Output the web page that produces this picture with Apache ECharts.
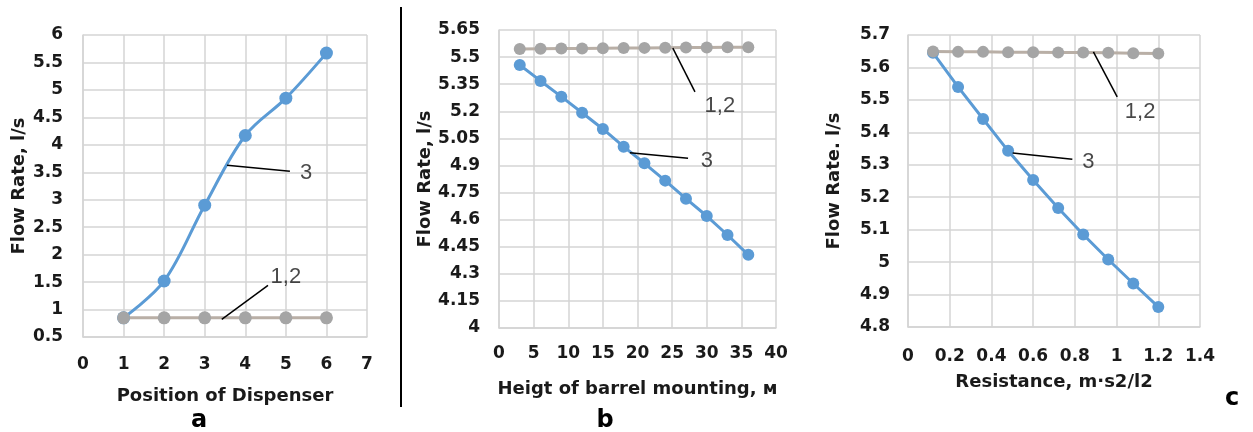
<!DOCTYPE html>
<html><head><meta charset="utf-8">
<script src="https://cdn.jsdelivr.net/npm/echarts@6/dist/echarts.min.js"></script>
<style>html,body{margin:0;padding:0;background:#fff}#c{width:1253px;height:432px}</style>
</head><body><div id="c"></div>
<script>
// ---- data ----
const aX = [1, 2, 3, 4, 5, 6];
const aFlow3 = [0.85, 1.52, 2.9, 4.17, 4.85, 5.67];
const aFlow12 = [0.85, 0.85, 0.85, 0.85, 0.85, 0.85];

const bX = [3, 6, 9, 12, 15, 18, 21, 24, 27, 30, 33, 36];
const bFlow3 = [5.456, 5.368, 5.281, 5.192, 5.102, 5.004, 4.912, 4.816, 4.716, 4.62, 4.515, 4.405];
const bFlow12 = [5.545, 5.546, 5.547, 5.548, 5.549, 5.55, 5.551, 5.552, 5.553, 5.553, 5.554, 5.555];

const cX = [0.12, 0.24, 0.36, 0.48, 0.6, 0.72, 0.84, 0.96, 1.08, 1.2];
const cFlow3 = [5.645, 5.54, 5.441, 5.343, 5.253, 5.167, 5.085, 5.008, 4.934, 4.862];
const cFlow12 = [5.649, 5.648, 5.648, 5.647, 5.647, 5.646, 5.646, 5.645, 5.644, 5.643];

const xNames = ['Position of Dispenser', 'Heigt of barrel mounting, м', 'Resistance, m·s2/l2'];
const yNames = ['Flow Rate, l/s', 'Flow Rate, l/s', 'Flow Rate. l/s'];
const panelLetters = ['a', 'b', 'c'];

// annotation leaders and labels in data coordinates
const aLead3 = [[3.55, 3.63], [5.1, 3.52]], aText3 = [5.5, 3.48];
const aLead12 = [[4.56, 1.44], [3.42, 0.82]], aText12 = [5.0, 1.6];
const bLead12 = [[25.1, 5.55], [28.3, 5.307]], bText12 = [31.9, 5.23];
const bLead3 = [[18.9, 4.97], [27.3, 4.94]], bText3 = [30.0, 4.925];
const cLead12 = [[0.889, 5.648], [1.003, 5.509]], cText12 = [1.113, 5.462];
const cLead3 = [[0.502, 5.336], [0.788, 5.317]], cText3 = [0.865, 5.308];

// ---- styles ----
const FONT = "'DejaVu Sans', Verdana, sans-serif";
const AFONT = "'Liberation Sans', Arial, sans-serif";
const INK = '#1a1a1a';
const BLUE = '#5b9bd5', GREY = '#a5a5a5', GREYLINE = '#b9afa6';
const gridLine = { show: true, lineStyle: { color: '#d4d4d4', width: 1.5 } };

function xAxis(idx, min, max, interval, margin, nameGap) {
  return {
    type: 'value', gridIndex: idx, min, max, interval,
    name: xNames[idx], nameLocation: 'middle', nameGap,
    nameTextStyle: { fontFamily: FONT, fontSize: 18, fontWeight: 'bold', color: INK },
    axisLine: { show: true, lineStyle: { color: '#d4d4d4', width: 1.5 } },
    axisTick: { show: false },
    axisLabel: { fontFamily: FONT, fontSize: 17, fontWeight: 'bold', color: INK, margin },
    splitLine: gridLine
  };
}
function yAxis(idx, min, max, interval, margin, nameGap) {
  return {
    type: 'value', gridIndex: idx, min, max, interval,
    name: yNames[idx], nameLocation: 'middle', nameGap,
    nameTextStyle: { fontFamily: FONT, fontSize: 18, fontWeight: 'bold', color: INK },
    axisLine: { show: true, lineStyle: { color: '#d4d4d4', width: 1.5 } },
    axisTick: { show: false },
    axisLabel: { fontFamily: FONT, fontSize: 17, fontWeight: 'bold', color: INK, margin },
    splitLine: gridLine
  };
}
function lineSeries(idx, xs, ys, color, lineColor, size, smooth, leads) {
  return {
    type: 'line', xAxisIndex: idx, yAxisIndex: idx, smooth, silent: true,
    data: xs.map((x, i) => [x, ys[i]]),
    symbol: 'circle', symbolSize: size,
    itemStyle: { color },
    lineStyle: { color: lineColor, width: 3 },
    markLine: leads ? {
      silent: true, symbol: 'none', animation: false,
      lineStyle: { color: '#000', width: 1.5, type: 'solid' },
      label: { show: false },
      data: leads.map(l => [{ coord: l[0] }, { coord: l[1] }])
    } : undefined
  };
}
function textSeries(idx, pts, texts) {
  return {
    type: 'scatter', xAxisIndex: idx, yAxisIndex: idx, silent: true,
    symbolSize: 0, data: pts.map((p, i) => ({ value: p, name: texts[i] })),
    label: { show: true, position: 'inside', formatter: p => p.name,
      fontFamily: AFONT, fontSize: 22, color: INK }
  };
}
function letter(t, x, y) {
  return { type: 'text', x, y, style: { text: t, font: "bold 24px " + FONT, fill: '#000', align: 'center', verticalAlign: 'middle' } };
}

const option = {
  animation: false,
  backgroundColor: '#fff',
  grid: [
    { left: 83, top: 35, width: 284, height: 302 },
    { left: 499, top: 30, width: 277, height: 298 },
    { left: 908, top: 35, width: 292, height: 292 }
  ],
  xAxis: [
    xAxis(0, 0, 7, 1, 19, 50),
    xAxis(1, 0, 40, 5, 17, 52),
    xAxis(2, 0, 1.4, 0.2, 21, 46)
  ],
  yAxis: [
    yAxis(0, 0.5, 6, 0.5, 20, 55),
    yAxis(1, 4, 5.65, 0.15, 19, 56),
    yAxis(2, 4.8, 5.7, 0.1, 18, 65)
  ],
  series: [
    lineSeries(0, aX, aFlow3, BLUE, BLUE, 13, 0.35, [aLead3]),
    lineSeries(0, aX, aFlow12, GREY, GREYLINE, 13, false, [aLead12]),
    textSeries(0, [aText3, aText12], ['3', '1,2']),
    lineSeries(1, bX, bFlow3, BLUE, BLUE, 12, false, [bLead3]),
    lineSeries(1, bX, bFlow12, GREY, GREYLINE, 12, false, [bLead12]),
    textSeries(1, [bText3, bText12], ['3', '1,2']),
    lineSeries(2, cX, cFlow3, BLUE, BLUE, 12, false, [cLead3]),
    lineSeries(2, cX, cFlow12, GREY, GREYLINE, 12, false, [cLead12]),
    textSeries(2, [cText3, cText12], ['3', '1,2'])
  ],
  graphic: [
    { type: 'line', shape: { x1: 401, y1: 7, x2: 401, y2: 407 }, style: { stroke: '#000', lineWidth: 2 } },
    letter(panelLetters[0], 199, 421),
    letter(panelLetters[1], 605, 421),
    letter(panelLetters[2], 1232, 399)
  ]
};
const chart = echarts.init(document.getElementById('c'), null, { renderer: 'canvas' });
chart.setOption(option);
</script></body></html>
